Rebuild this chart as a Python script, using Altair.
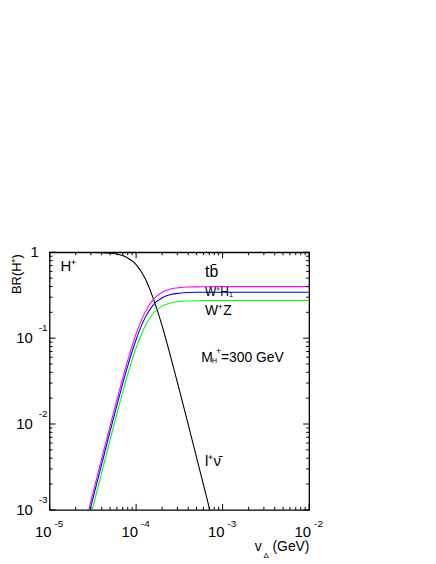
import altair as alt
import pandas as pd

# ---- data ----
vd = [1.0e-5, 1.58e-5, 2.51e-5, 3.16e-5, 3.98e-5, 5.01e-5, 6.31e-5, 7.94e-5,
      1.0e-4, 1.26e-4, 1.58e-4, 2.0e-4, 2.51e-4, 3.16e-4, 3.98e-4, 5.01e-4,
      6.31e-4, 7.94e-4, 1.0e-3, 1.0e-2]
br_lnu = [1.0, 0.9998, 0.9985, 0.996, 0.990, 0.976, 0.942, 0.865,
          0.719, 0.505, 0.289, 0.139, 0.0604, 0.0250, 0.0101, 0.00404,
          0.00161, 0.000642, None, None]
br_tb = [None, None, 0.000618, 0.00155, 0.00387, 0.00958, 0.0232, 0.0536,
         0.112, 0.197, 0.283, 0.343, 0.374, 0.388, 0.394, 0.396,
         0.397, 0.398, 0.398, 0.398]
br_wh = [None, None, 0.000533, 0.00134, 0.00333, 0.00826, 0.0200, 0.0462,
         0.0964, 0.170, 0.244, 0.295, 0.322, 0.334, 0.340, 0.342,
         0.342, 0.343, 0.343, 0.343]
br_wz = [None, None, 0.000426, 0.00107, 0.00266, 0.00660, 0.0160, 0.0369,
         0.0770, 0.136, 0.195, 0.236, 0.257, 0.267, 0.271, 0.273,
         0.274, 0.274, 0.274, 0.274]

series_names = ["lnu", "tb", "WH", "WZ"]
series_colors = ["#000000", "#ff00ff", "#0000ff", "#00ff00"]

x_ticks = [1e-5, 1e-4, 1e-3, 1e-2]
x_exps = ["-5", "-4", "-3", "-2"]
y_ticks = [0.1, 0.01, 0.001]
y_exps = ["-1", "-2", "-3"]

W, H = 262, 260
FONT = "Liberation Sans"

rows = []
for name, vals in zip(series_names, [br_lnu, br_tb, br_wh, br_wz]):
    for x, v in zip(vd, vals):
        if v is not None:
            rows.append({"vd": x, "br": v, "s": name})
df = pd.DataFrame(rows)

xs = alt.Scale(type="log", domain=[1e-5, 1e-2], nice=False)
ys = alt.Scale(type="log", domain=[1e-3, 1], nice=False)

lines = alt.Chart(df).mark_line(clip=True, strokeWidth=1.1, interpolate="monotone").encode(
    x=alt.X("vd:Q", scale=xs, axis=None),
    y=alt.Y("br:Q", scale=ys, axis=None),
    color=alt.Color("s:N", scale=alt.Scale(domain=series_names, range=series_colors), legend=None),
    detail="s:N",
)

# tick positions (major + minor) on each decade
xt = []
for d in [1e-5, 1e-4, 1e-3]:
    for m in range(1, 10):
        xt.append({"t": d * m, "major": m == 1})
xt.append({"t": 1e-2, "major": True})
yt = []
for d in [1e-3, 1e-2, 1e-1]:
    for m in range(1, 10):
        yt.append({"t": d * m, "major": m == 1})
yt.append({"t": 1.0, "major": True})
xtd = pd.DataFrame(xt)
ytd = pd.DataFrame(yt)
xmaj, xmin = xtd[xtd["major"]], xtd[~xtd["major"]]
ymaj, ymin = ytd[ytd["major"]], ytd[~ytd["major"]]

def xr(d, a, b):
    return alt.Chart(d).mark_rule(color="black", strokeWidth=1).encode(
        x=alt.X("t:Q", scale=xs, axis=None), y=alt.value(a), y2=alt.value(b))

def yr(d, a, b):
    return alt.Chart(d).mark_rule(color="black", strokeWidth=1).encode(
        y=alt.Y("t:Q", scale=ys, axis=None), x=alt.value(a), x2=alt.value(b))

ticks = [
    xr(xmaj, H - 6, H), xr(xmin, H - 3, H), xr(xmaj, 0, 6), xr(xmin, 0, 3),
    yr(ymaj, 0, 6), yr(ymin, 0, 3), yr(ymaj, W - 6, W), yr(ymin, W - 3, W),
]

# tick labels
xl = pd.DataFrame({"t": x_ticks, "e": x_exps})
xlab_base = alt.Chart(xl).mark_text(font=FONT, fontSize=15, align="right", baseline="alphabetic", dx=2).encode(
    x=alt.X("t:Q", scale=xs, axis=None), y=alt.value(H + 27), text=alt.value("10"))
xlab_exp = alt.Chart(xl).mark_text(font=FONT, fontSize=10, align="left", baseline="alphabetic", dx=5).encode(
    x=alt.X("t:Q", scale=xs, axis=None), y=alt.value(H + 17), text="e:N")

yl = pd.DataFrame({"t": y_ticks, "e": y_exps})
ylab_base = alt.Chart(yl).mark_text(font=FONT, fontSize=15, align="right", baseline="middle", dx=-17).encode(
    y=alt.Y("t:Q", scale=ys, axis=None), x=alt.value(0), text=alt.value("10"))
ylab_exp = alt.Chart(yl).mark_text(font=FONT, fontSize=10, align="left", baseline="middle", dx=-11, dy=-10).encode(
    y=alt.Y("t:Q", scale=ys, axis=None), x=alt.value(0), text="e:N")
ylab_one = alt.Chart(pd.DataFrame({"t": [1.0]})).mark_text(font=FONT, fontSize=15, align="right", baseline="middle", dx=-11).encode(
    y=alt.Y("t:Q", scale=ys, axis=None), x=alt.value(0), text=alt.value("1"))

def label(txt, x, y, size, align="left", angle=0):
    return alt.Chart(pd.DataFrame({"a": [0]})).mark_text(
        font=FONT, fontSize=size, align=align, baseline="middle", angle=angle
    ).encode(x=alt.value(x), y=alt.value(y), text=alt.value(txt))

annots = [
    label("BR(H⁺)", -33, 22, 13, align="center", angle=270),
    label("v", 207, 298, 14),
    label("Δ", 216, 307, 8),
    label("(GeV)", 225, 298, 14),
    label("H⁺", 11, 14, 15),
    label("tb̄", 157, 20, 16),
    label("W⁺H₁", 157, 40, 12),
    label("W⁺Z", 157, 59, 14),
    label("M", 153, 107, 14),
    label("H", 164, 110, 7),
    label("+", 168, 100, 9),
    label("=300 GeV", 173, 107, 14),
    label("l⁺ν̄", 157, 211, 15),
]

chart = alt.layer(
    lines, *ticks,
    xlab_base, xlab_exp, ylab_base, ylab_exp, ylab_one,
    *annots,
).properties(
    width=W, height=H,
    autosize=alt.AutoSizeParams(type="none"),
    padding={"left": 42, "top": 244, "right": 120, "bottom": 50},
).configure_view(stroke="black", strokeWidth=1.3)

chart.save("out.html", embed_options={"renderer": "svg", "actions": False})
